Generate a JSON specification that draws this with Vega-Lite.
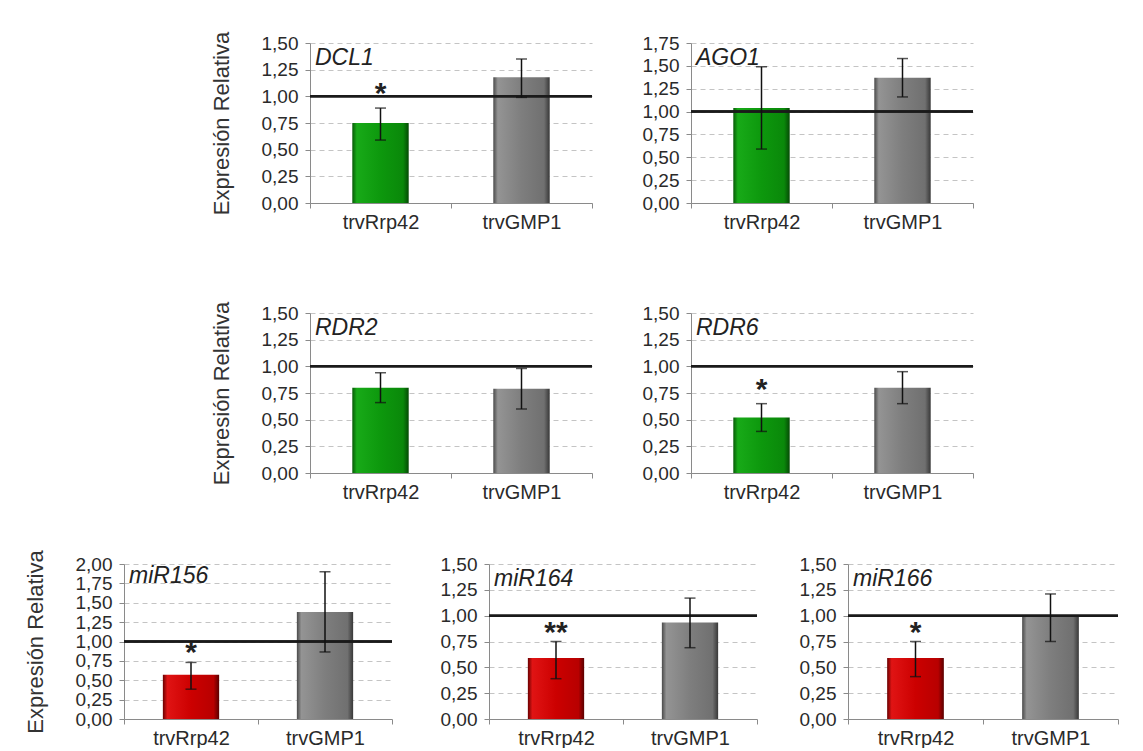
{
  "$schema": "https://vega.github.io/schema/vega-lite/v6.json",
  "padding": {"left": 24, "top": 29, "right": 0, "bottom": 0},
  "background": "white",
  "datasets": {
    "bars": [
      {"gen": "DCL1", "grupo": "trvRrp42", "valor": 0.75, "min": 0.59, "max": 0.89, "sig": "*"},
      {"gen": "DCL1", "grupo": "trvGMP1", "valor": 1.18, "min": 0.99, "max": 1.35, "sig": ""},
      {"gen": "AGO1", "grupo": "trvRrp42", "valor": 1.04, "min": 0.59, "max": 1.49, "sig": ""},
      {"gen": "AGO1", "grupo": "trvGMP1", "valor": 1.37, "min": 1.16, "max": 1.58, "sig": ""},
      {"gen": "RDR2", "grupo": "trvRrp42", "valor": 0.80, "min": 0.66, "max": 0.94, "sig": ""},
      {"gen": "RDR2", "grupo": "trvGMP1", "valor": 0.79, "min": 0.60, "max": 0.98, "sig": ""},
      {"gen": "RDR6", "grupo": "trvRrp42", "valor": 0.52, "min": 0.39, "max": 0.65, "sig": "*"},
      {"gen": "RDR6", "grupo": "trvGMP1", "valor": 0.80, "min": 0.65, "max": 0.95, "sig": ""},
      {"gen": "miR156", "grupo": "trvRrp42", "valor": 0.57, "min": 0.385, "max": 0.73, "sig": "*"},
      {"gen": "miR156", "grupo": "trvGMP1", "valor": 1.38, "min": 0.865, "max": 1.90, "sig": ""},
      {"gen": "miR164", "grupo": "trvRrp42", "valor": 0.59, "min": 0.39, "max": 0.75, "sig": "**"},
      {"gen": "miR164", "grupo": "trvGMP1", "valor": 0.935, "min": 0.69, "max": 1.17, "sig": ""},
      {"gen": "miR166", "grupo": "trvRrp42", "valor": 0.59, "min": 0.41, "max": 0.75, "sig": "*"},
      {"gen": "miR166", "grupo": "trvGMP1", "valor": 0.99, "min": 0.75, "max": 1.21, "sig": ""}
    ]
  },
  "config": {
    "font": "Liberation Sans",
    "view": {"stroke": null},
    "locale": {"number": {"decimal": ",", "thousands": ".", "grouping": [3], "currency": ["", " €"]}},
    "scale": {"bandPaddingInner": 0, "bandPaddingOuter": 0},
    "axisY": {"grid": true, "gridDash": [5, 4], "gridColor": "#c4c4c4", "gridWidth": 1, "domainColor": "#8a8a8a", "tickColor": "#8a8a8a", "tickSize": 5, "labelFontSize": 19, "labelColor": "#2a2a2a", "labelPadding": 7, "labelOverlap": false, "titleFontSize": 22, "titleFontWeight": "normal", "titleColor": "#333333", "titlePadding": 28, "format": ".2f"},
    "axisX": {"grid": false, "tickBand": "extent", "labelAngle": 0, "domainColor": "#8a8a8a", "tickColor": "#8a8a8a", "tickSize": 5, "labelFontSize": 20, "labelColor": "#2a2a2a", "labelPadding": 4}
  },
  "spacing": 45,
  "vconcat": [
    {
      "spacing": 69,
      "vconcat": [
        {
          "spacing": 48,
          "hconcat": [
            {"width": 38, "height": 1, "data": {"values": []}, "mark": "point", "encoding": {}},
            {
              "width": 282, "height": 160,
              "data": {"name": "bars"},
              "transform": [{"filter": "datum.gen === 'DCL1'"}],
              "layer": [
                {"transform": [{"filter": "datum.grupo === 'trvRrp42'"}], "mark": {"type": "bar", "width": {"band": 0.4}, "fill": {"gradient": "linear", "x1": 0, "y1": 0, "x2": 1, "y2": 0, "stops": [{"offset": 0, "color": "#075a07"}, {"offset": 0.08, "color": "#18aa18"}, {"offset": 0.5, "color": "#0d980d"}, {"offset": 0.9, "color": "#0a880a"}, {"offset": 1, "color": "#054a05"}]}},
                 "encoding": {"x": {"field": "grupo", "type": "nominal", "sort": ["trvRrp42", "trvGMP1"], "title": null}, "y": {"field": "valor", "type": "quantitative", "scale": {"domain": [0, 1.5], "nice": false}, "axis": {"values": [0, 0.25, 0.5, 0.75, 1, 1.25, 1.5]}, "title": "Expresión Relativa"}}},
                {"transform": [{"filter": "datum.grupo === 'trvGMP1'"}], "mark": {"type": "bar", "width": {"band": 0.4}, "fill": {"gradient": "linear", "x1": 0, "y1": 0, "x2": 1, "y2": 0, "stops": [{"offset": 0, "color": "#4a4a4a"}, {"offset": 0.08, "color": "#949494"}, {"offset": 0.5, "color": "#7e7e7e"}, {"offset": 0.9, "color": "#707070"}, {"offset": 1, "color": "#383838"}]}},
                 "encoding": {"x": {"field": "grupo", "type": "nominal", "sort": ["trvRrp42", "trvGMP1"], "title": null}, "y": {"field": "valor", "type": "quantitative", "axis": {"values": [0, 0.25, 0.5, 0.75, 1, 1.25, 1.5]}, "title": "Expresión Relativa"}}},
                {"mark": {"type": "rule", "color": "#1a1a1a", "strokeWidth": 2.5}, "encoding": {"y": {"datum": 1, "type": "quantitative", "axis": {"values": [0, 0.25, 0.5, 0.75, 1, 1.25, 1.5]}, "title": "Expresión Relativa"}}},
                {"mark": {"type": "rule", "color": "#111111", "strokeWidth": 1.5}, "encoding": {"x": {"field": "grupo", "type": "nominal", "sort": ["trvRrp42", "trvGMP1"], "title": null}, "y": {"field": "min", "type": "quantitative", "axis": {"values": [0, 0.25, 0.5, 0.75, 1, 1.25, 1.5]}, "title": "Expresión Relativa"}, "y2": {"field": "max"}}},
                {"mark": {"type": "tick", "color": "#111111", "thickness": 1.5, "size": 11}, "encoding": {"x": {"field": "grupo", "type": "nominal", "sort": ["trvRrp42", "trvGMP1"], "title": null}, "y": {"field": "min", "type": "quantitative", "axis": {"values": [0, 0.25, 0.5, 0.75, 1, 1.25, 1.5]}, "title": "Expresión Relativa"}}},
                {"mark": {"type": "tick", "color": "#111111", "thickness": 1.5, "size": 11}, "encoding": {"x": {"field": "grupo", "type": "nominal", "sort": ["trvRrp42", "trvGMP1"], "title": null}, "y": {"field": "max", "type": "quantitative", "axis": {"values": [0, 0.25, 0.5, 0.75, 1, 1.25, 1.5]}, "title": "Expresión Relativa"}}},
                {"mark": {"type": "text", "fontSize": 30, "fontWeight": "bold", "baseline": "alphabetic", "dy": -5, "color": "#222222"}, "encoding": {"x": {"field": "grupo", "type": "nominal", "sort": ["trvRrp42", "trvGMP1"], "title": null}, "y": {"field": "max", "type": "quantitative", "axis": {"values": [0, 0.25, 0.5, 0.75, 1, 1.25, 1.5]}, "title": "Expresión Relativa"}, "text": {"field": "sig"}}},
                {"transform": [{"filter": "datum.grupo === 'trvRrp42'"}], "mark": {"type": "text", "fontSize": 23, "fontStyle": "italic", "align": "left", "baseline": "top", "dx": 5, "dy": 4, "color": "#222222"}, "encoding": {"x": {"datum": "trvRrp42", "type": "nominal", "bandPosition": 0, "title": null}, "y": {"datum": 1.5, "type": "quantitative", "axis": {"values": [0, 0.25, 0.5, 0.75, 1, 1.25, 1.5]}, "title": "Expresión Relativa"}, "text": {"field": "gen"}}}
              ]
            },
            {
              "width": 282, "height": 160,
              "data": {"name": "bars"},
              "transform": [{"filter": "datum.gen === 'AGO1'"}],
              "layer": [
                {"transform": [{"filter": "datum.grupo === 'trvRrp42'"}], "mark": {"type": "bar", "width": {"band": 0.4}, "fill": {"gradient": "linear", "x1": 0, "y1": 0, "x2": 1, "y2": 0, "stops": [{"offset": 0, "color": "#075a07"}, {"offset": 0.08, "color": "#18aa18"}, {"offset": 0.5, "color": "#0d980d"}, {"offset": 0.9, "color": "#0a880a"}, {"offset": 1, "color": "#054a05"}]}},
                 "encoding": {"x": {"field": "grupo", "type": "nominal", "sort": ["trvRrp42", "trvGMP1"], "title": null}, "y": {"field": "valor", "type": "quantitative", "scale": {"domain": [0, 1.75], "nice": false}, "axis": {"values": [0, 0.25, 0.5, 0.75, 1, 1.25, 1.5, 1.75]}, "title": null}}},
                {"transform": [{"filter": "datum.grupo === 'trvGMP1'"}], "mark": {"type": "bar", "width": {"band": 0.4}, "fill": {"gradient": "linear", "x1": 0, "y1": 0, "x2": 1, "y2": 0, "stops": [{"offset": 0, "color": "#4a4a4a"}, {"offset": 0.08, "color": "#949494"}, {"offset": 0.5, "color": "#7e7e7e"}, {"offset": 0.9, "color": "#707070"}, {"offset": 1, "color": "#383838"}]}},
                 "encoding": {"x": {"field": "grupo", "type": "nominal", "sort": ["trvRrp42", "trvGMP1"], "title": null}, "y": {"field": "valor", "type": "quantitative", "axis": {"values": [0, 0.25, 0.5, 0.75, 1, 1.25, 1.5, 1.75]}, "title": null}}},
                {"mark": {"type": "rule", "color": "#1a1a1a", "strokeWidth": 2.5}, "encoding": {"y": {"datum": 1, "type": "quantitative", "axis": {"values": [0, 0.25, 0.5, 0.75, 1, 1.25, 1.5, 1.75]}, "title": null}}},
                {"mark": {"type": "rule", "color": "#111111", "strokeWidth": 1.5}, "encoding": {"x": {"field": "grupo", "type": "nominal", "sort": ["trvRrp42", "trvGMP1"], "title": null}, "y": {"field": "min", "type": "quantitative", "axis": {"values": [0, 0.25, 0.5, 0.75, 1, 1.25, 1.5, 1.75]}, "title": null}, "y2": {"field": "max"}}},
                {"mark": {"type": "tick", "color": "#111111", "thickness": 1.5, "size": 11}, "encoding": {"x": {"field": "grupo", "type": "nominal", "sort": ["trvRrp42", "trvGMP1"], "title": null}, "y": {"field": "min", "type": "quantitative", "axis": {"values": [0, 0.25, 0.5, 0.75, 1, 1.25, 1.5, 1.75]}, "title": null}}},
                {"mark": {"type": "tick", "color": "#111111", "thickness": 1.5, "size": 11}, "encoding": {"x": {"field": "grupo", "type": "nominal", "sort": ["trvRrp42", "trvGMP1"], "title": null}, "y": {"field": "max", "type": "quantitative", "axis": {"values": [0, 0.25, 0.5, 0.75, 1, 1.25, 1.5, 1.75]}, "title": null}}},
                {"mark": {"type": "text", "fontSize": 30, "fontWeight": "bold", "baseline": "alphabetic", "dy": -5, "color": "#222222"}, "encoding": {"x": {"field": "grupo", "type": "nominal", "sort": ["trvRrp42", "trvGMP1"], "title": null}, "y": {"field": "max", "type": "quantitative", "axis": {"values": [0, 0.25, 0.5, 0.75, 1, 1.25, 1.5, 1.75]}, "title": null}, "text": {"field": "sig"}}},
                {"transform": [{"filter": "datum.grupo === 'trvRrp42'"}], "mark": {"type": "text", "fontSize": 23, "fontStyle": "italic", "align": "left", "baseline": "top", "dx": 5, "dy": 4, "color": "#222222"}, "encoding": {"x": {"datum": "trvRrp42", "type": "nominal", "bandPosition": 0, "title": null}, "y": {"datum": 1.75, "type": "quantitative", "axis": {"values": [0, 0.25, 0.5, 0.75, 1, 1.25, 1.5, 1.75]}, "title": null}, "text": {"field": "gen"}}}
              ]
            }
          ]
        },
        {
          "spacing": 48,
          "hconcat": [
            {"width": 38, "height": 1, "data": {"values": []}, "mark": "point", "encoding": {}},
            {
              "width": 282, "height": 160,
              "data": {"name": "bars"},
              "transform": [{"filter": "datum.gen === 'RDR2'"}],
              "layer": [
                {"transform": [{"filter": "datum.grupo === 'trvRrp42'"}], "mark": {"type": "bar", "width": {"band": 0.4}, "fill": {"gradient": "linear", "x1": 0, "y1": 0, "x2": 1, "y2": 0, "stops": [{"offset": 0, "color": "#075a07"}, {"offset": 0.08, "color": "#18aa18"}, {"offset": 0.5, "color": "#0d980d"}, {"offset": 0.9, "color": "#0a880a"}, {"offset": 1, "color": "#054a05"}]}},
                 "encoding": {"x": {"field": "grupo", "type": "nominal", "sort": ["trvRrp42", "trvGMP1"], "title": null}, "y": {"field": "valor", "type": "quantitative", "scale": {"domain": [0, 1.5], "nice": false}, "axis": {"values": [0, 0.25, 0.5, 0.75, 1, 1.25, 1.5]}, "title": "Expresión Relativa"}}},
                {"transform": [{"filter": "datum.grupo === 'trvGMP1'"}], "mark": {"type": "bar", "width": {"band": 0.4}, "fill": {"gradient": "linear", "x1": 0, "y1": 0, "x2": 1, "y2": 0, "stops": [{"offset": 0, "color": "#4a4a4a"}, {"offset": 0.08, "color": "#949494"}, {"offset": 0.5, "color": "#7e7e7e"}, {"offset": 0.9, "color": "#707070"}, {"offset": 1, "color": "#383838"}]}},
                 "encoding": {"x": {"field": "grupo", "type": "nominal", "sort": ["trvRrp42", "trvGMP1"], "title": null}, "y": {"field": "valor", "type": "quantitative", "axis": {"values": [0, 0.25, 0.5, 0.75, 1, 1.25, 1.5]}, "title": "Expresión Relativa"}}},
                {"mark": {"type": "rule", "color": "#1a1a1a", "strokeWidth": 2.5}, "encoding": {"y": {"datum": 1, "type": "quantitative", "axis": {"values": [0, 0.25, 0.5, 0.75, 1, 1.25, 1.5]}, "title": "Expresión Relativa"}}},
                {"mark": {"type": "rule", "color": "#111111", "strokeWidth": 1.5}, "encoding": {"x": {"field": "grupo", "type": "nominal", "sort": ["trvRrp42", "trvGMP1"], "title": null}, "y": {"field": "min", "type": "quantitative", "axis": {"values": [0, 0.25, 0.5, 0.75, 1, 1.25, 1.5]}, "title": "Expresión Relativa"}, "y2": {"field": "max"}}},
                {"mark": {"type": "tick", "color": "#111111", "thickness": 1.5, "size": 11}, "encoding": {"x": {"field": "grupo", "type": "nominal", "sort": ["trvRrp42", "trvGMP1"], "title": null}, "y": {"field": "min", "type": "quantitative", "axis": {"values": [0, 0.25, 0.5, 0.75, 1, 1.25, 1.5]}, "title": "Expresión Relativa"}}},
                {"mark": {"type": "tick", "color": "#111111", "thickness": 1.5, "size": 11}, "encoding": {"x": {"field": "grupo", "type": "nominal", "sort": ["trvRrp42", "trvGMP1"], "title": null}, "y": {"field": "max", "type": "quantitative", "axis": {"values": [0, 0.25, 0.5, 0.75, 1, 1.25, 1.5]}, "title": "Expresión Relativa"}}},
                {"mark": {"type": "text", "fontSize": 30, "fontWeight": "bold", "baseline": "alphabetic", "dy": -5, "color": "#222222"}, "encoding": {"x": {"field": "grupo", "type": "nominal", "sort": ["trvRrp42", "trvGMP1"], "title": null}, "y": {"field": "max", "type": "quantitative", "axis": {"values": [0, 0.25, 0.5, 0.75, 1, 1.25, 1.5]}, "title": "Expresión Relativa"}, "text": {"field": "sig"}}},
                {"transform": [{"filter": "datum.grupo === 'trvRrp42'"}], "mark": {"type": "text", "fontSize": 23, "fontStyle": "italic", "align": "left", "baseline": "top", "dx": 5, "dy": 4, "color": "#222222"}, "encoding": {"x": {"datum": "trvRrp42", "type": "nominal", "bandPosition": 0, "title": null}, "y": {"datum": 1.5, "type": "quantitative", "axis": {"values": [0, 0.25, 0.5, 0.75, 1, 1.25, 1.5]}, "title": "Expresión Relativa"}, "text": {"field": "gen"}}}
              ]
            },
            {
              "width": 282, "height": 160,
              "data": {"name": "bars"},
              "transform": [{"filter": "datum.gen === 'RDR6'"}],
              "layer": [
                {"transform": [{"filter": "datum.grupo === 'trvRrp42'"}], "mark": {"type": "bar", "width": {"band": 0.4}, "fill": {"gradient": "linear", "x1": 0, "y1": 0, "x2": 1, "y2": 0, "stops": [{"offset": 0, "color": "#075a07"}, {"offset": 0.08, "color": "#18aa18"}, {"offset": 0.5, "color": "#0d980d"}, {"offset": 0.9, "color": "#0a880a"}, {"offset": 1, "color": "#054a05"}]}},
                 "encoding": {"x": {"field": "grupo", "type": "nominal", "sort": ["trvRrp42", "trvGMP1"], "title": null}, "y": {"field": "valor", "type": "quantitative", "scale": {"domain": [0, 1.5], "nice": false}, "axis": {"values": [0, 0.25, 0.5, 0.75, 1, 1.25, 1.5]}, "title": null}}},
                {"transform": [{"filter": "datum.grupo === 'trvGMP1'"}], "mark": {"type": "bar", "width": {"band": 0.4}, "fill": {"gradient": "linear", "x1": 0, "y1": 0, "x2": 1, "y2": 0, "stops": [{"offset": 0, "color": "#4a4a4a"}, {"offset": 0.08, "color": "#949494"}, {"offset": 0.5, "color": "#7e7e7e"}, {"offset": 0.9, "color": "#707070"}, {"offset": 1, "color": "#383838"}]}},
                 "encoding": {"x": {"field": "grupo", "type": "nominal", "sort": ["trvRrp42", "trvGMP1"], "title": null}, "y": {"field": "valor", "type": "quantitative", "axis": {"values": [0, 0.25, 0.5, 0.75, 1, 1.25, 1.5]}, "title": null}}},
                {"mark": {"type": "rule", "color": "#1a1a1a", "strokeWidth": 2.5}, "encoding": {"y": {"datum": 1, "type": "quantitative", "axis": {"values": [0, 0.25, 0.5, 0.75, 1, 1.25, 1.5]}, "title": null}}},
                {"mark": {"type": "rule", "color": "#111111", "strokeWidth": 1.5}, "encoding": {"x": {"field": "grupo", "type": "nominal", "sort": ["trvRrp42", "trvGMP1"], "title": null}, "y": {"field": "min", "type": "quantitative", "axis": {"values": [0, 0.25, 0.5, 0.75, 1, 1.25, 1.5]}, "title": null}, "y2": {"field": "max"}}},
                {"mark": {"type": "tick", "color": "#111111", "thickness": 1.5, "size": 11}, "encoding": {"x": {"field": "grupo", "type": "nominal", "sort": ["trvRrp42", "trvGMP1"], "title": null}, "y": {"field": "min", "type": "quantitative", "axis": {"values": [0, 0.25, 0.5, 0.75, 1, 1.25, 1.5]}, "title": null}}},
                {"mark": {"type": "tick", "color": "#111111", "thickness": 1.5, "size": 11}, "encoding": {"x": {"field": "grupo", "type": "nominal", "sort": ["trvRrp42", "trvGMP1"], "title": null}, "y": {"field": "max", "type": "quantitative", "axis": {"values": [0, 0.25, 0.5, 0.75, 1, 1.25, 1.5]}, "title": null}}},
                {"mark": {"type": "text", "fontSize": 30, "fontWeight": "bold", "baseline": "alphabetic", "dy": -5, "color": "#222222"}, "encoding": {"x": {"field": "grupo", "type": "nominal", "sort": ["trvRrp42", "trvGMP1"], "title": null}, "y": {"field": "max", "type": "quantitative", "axis": {"values": [0, 0.25, 0.5, 0.75, 1, 1.25, 1.5]}, "title": null}, "text": {"field": "sig"}}},
                {"transform": [{"filter": "datum.grupo === 'trvRrp42'"}], "mark": {"type": "text", "fontSize": 23, "fontStyle": "italic", "align": "left", "baseline": "top", "dx": 5, "dy": 4, "color": "#222222"}, "encoding": {"x": {"datum": "trvRrp42", "type": "nominal", "bandPosition": 0, "title": null}, "y": {"datum": 1.5, "type": "quantitative", "axis": {"values": [0, 0.25, 0.5, 0.75, 1, 1.25, 1.5]}, "title": null}, "text": {"field": "gen"}}}
              ]
            }
          ]
        }
      ]
    },
    {
      "spacing": 46,
      "hconcat": [
        {
          "width": 268, "height": 155,
          "data": {"name": "bars"},
          "transform": [{"filter": "datum.gen === 'miR156'"}],
          "layer": [
            {"transform": [{"filter": "datum.grupo === 'trvRrp42'"}], "mark": {"type": "bar", "width": {"band": 0.42}, "fill": {"gradient": "linear", "x1": 0, "y1": 0, "x2": 1, "y2": 0, "stops": [{"offset": 0, "color": "#6a0000"}, {"offset": 0.08, "color": "#e01414"}, {"offset": 0.5, "color": "#cc0000"}, {"offset": 0.9, "color": "#b80000"}, {"offset": 1, "color": "#5a0000"}]}},
             "encoding": {"x": {"field": "grupo", "type": "nominal", "sort": ["trvRrp42", "trvGMP1"], "title": null}, "y": {"field": "valor", "type": "quantitative", "scale": {"domain": [0, 2], "nice": false}, "axis": {"values": [0, 0.25, 0.5, 0.75, 1, 1.25, 1.5, 1.75, 2]}, "title": "Expresión Relativa"}}},
            {"transform": [{"filter": "datum.grupo === 'trvGMP1'"}], "mark": {"type": "bar", "width": {"band": 0.42}, "fill": {"gradient": "linear", "x1": 0, "y1": 0, "x2": 1, "y2": 0, "stops": [{"offset": 0, "color": "#4a4a4a"}, {"offset": 0.08, "color": "#949494"}, {"offset": 0.5, "color": "#7e7e7e"}, {"offset": 0.9, "color": "#707070"}, {"offset": 1, "color": "#383838"}]}},
             "encoding": {"x": {"field": "grupo", "type": "nominal", "sort": ["trvRrp42", "trvGMP1"], "title": null}, "y": {"field": "valor", "type": "quantitative", "axis": {"values": [0, 0.25, 0.5, 0.75, 1, 1.25, 1.5, 1.75, 2]}, "title": "Expresión Relativa"}}},
            {"mark": {"type": "rule", "color": "#1a1a1a", "strokeWidth": 2.5}, "encoding": {"y": {"datum": 1, "type": "quantitative", "axis": {"values": [0, 0.25, 0.5, 0.75, 1, 1.25, 1.5, 1.75, 2]}, "title": "Expresión Relativa"}}},
            {"mark": {"type": "rule", "color": "#111111", "strokeWidth": 1.5}, "encoding": {"x": {"field": "grupo", "type": "nominal", "sort": ["trvRrp42", "trvGMP1"], "title": null}, "y": {"field": "min", "type": "quantitative", "axis": {"values": [0, 0.25, 0.5, 0.75, 1, 1.25, 1.5, 1.75, 2]}, "title": "Expresión Relativa"}, "y2": {"field": "max"}}},
            {"mark": {"type": "tick", "color": "#111111", "thickness": 1.5, "size": 11}, "encoding": {"x": {"field": "grupo", "type": "nominal", "sort": ["trvRrp42", "trvGMP1"], "title": null}, "y": {"field": "min", "type": "quantitative", "axis": {"values": [0, 0.25, 0.5, 0.75, 1, 1.25, 1.5, 1.75, 2]}, "title": "Expresión Relativa"}}},
            {"mark": {"type": "tick", "color": "#111111", "thickness": 1.5, "size": 11}, "encoding": {"x": {"field": "grupo", "type": "nominal", "sort": ["trvRrp42", "trvGMP1"], "title": null}, "y": {"field": "max", "type": "quantitative", "axis": {"values": [0, 0.25, 0.5, 0.75, 1, 1.25, 1.5, 1.75, 2]}, "title": "Expresión Relativa"}}},
            {"mark": {"type": "text", "fontSize": 30, "fontWeight": "bold", "baseline": "alphabetic", "dy": 0, "color": "#222222"}, "encoding": {"x": {"field": "grupo", "type": "nominal", "sort": ["trvRrp42", "trvGMP1"], "title": null}, "y": {"field": "max", "type": "quantitative", "axis": {"values": [0, 0.25, 0.5, 0.75, 1, 1.25, 1.5, 1.75, 2]}, "title": "Expresión Relativa"}, "text": {"field": "sig"}}},
            {"transform": [{"filter": "datum.grupo === 'trvRrp42'"}], "mark": {"type": "text", "fontSize": 23, "fontStyle": "italic", "align": "left", "baseline": "top", "dx": 5, "dy": 1, "color": "#222222"}, "encoding": {"x": {"datum": "trvRrp42", "type": "nominal", "bandPosition": 0, "title": null}, "y": {"datum": 2, "type": "quantitative", "axis": {"values": [0, 0.25, 0.5, 0.75, 1, 1.25, 1.5, 1.75, 2]}, "title": "Expresión Relativa"}, "text": {"field": "gen"}}}
          ]
        },
        {
          "spacing": 40,
          "hconcat": [
            {
              "width": 268, "height": 155,
              "data": {"name": "bars"},
              "transform": [{"filter": "datum.gen === 'miR164'"}],
              "layer": [
                {"transform": [{"filter": "datum.grupo === 'trvRrp42'"}], "mark": {"type": "bar", "width": {"band": 0.42}, "fill": {"gradient": "linear", "x1": 0, "y1": 0, "x2": 1, "y2": 0, "stops": [{"offset": 0, "color": "#6a0000"}, {"offset": 0.08, "color": "#e01414"}, {"offset": 0.5, "color": "#cc0000"}, {"offset": 0.9, "color": "#b80000"}, {"offset": 1, "color": "#5a0000"}]}},
                 "encoding": {"x": {"field": "grupo", "type": "nominal", "sort": ["trvRrp42", "trvGMP1"], "title": null}, "y": {"field": "valor", "type": "quantitative", "scale": {"domain": [0, 1.5], "nice": false}, "axis": {"values": [0, 0.25, 0.5, 0.75, 1, 1.25, 1.5]}, "title": null}}},
                {"transform": [{"filter": "datum.grupo === 'trvGMP1'"}], "mark": {"type": "bar", "width": {"band": 0.42}, "fill": {"gradient": "linear", "x1": 0, "y1": 0, "x2": 1, "y2": 0, "stops": [{"offset": 0, "color": "#4a4a4a"}, {"offset": 0.08, "color": "#949494"}, {"offset": 0.5, "color": "#7e7e7e"}, {"offset": 0.9, "color": "#707070"}, {"offset": 1, "color": "#383838"}]}},
                 "encoding": {"x": {"field": "grupo", "type": "nominal", "sort": ["trvRrp42", "trvGMP1"], "title": null}, "y": {"field": "valor", "type": "quantitative", "axis": {"values": [0, 0.25, 0.5, 0.75, 1, 1.25, 1.5]}, "title": null}}},
                {"mark": {"type": "rule", "color": "#1a1a1a", "strokeWidth": 2.5}, "encoding": {"y": {"datum": 1, "type": "quantitative", "axis": {"values": [0, 0.25, 0.5, 0.75, 1, 1.25, 1.5]}, "title": null}}},
                {"mark": {"type": "rule", "color": "#111111", "strokeWidth": 1.5}, "encoding": {"x": {"field": "grupo", "type": "nominal", "sort": ["trvRrp42", "trvGMP1"], "title": null}, "y": {"field": "min", "type": "quantitative", "axis": {"values": [0, 0.25, 0.5, 0.75, 1, 1.25, 1.5]}, "title": null}, "y2": {"field": "max"}}},
                {"mark": {"type": "tick", "color": "#111111", "thickness": 1.5, "size": 11}, "encoding": {"x": {"field": "grupo", "type": "nominal", "sort": ["trvRrp42", "trvGMP1"], "title": null}, "y": {"field": "min", "type": "quantitative", "axis": {"values": [0, 0.25, 0.5, 0.75, 1, 1.25, 1.5]}, "title": null}}},
                {"mark": {"type": "tick", "color": "#111111", "thickness": 1.5, "size": 11}, "encoding": {"x": {"field": "grupo", "type": "nominal", "sort": ["trvRrp42", "trvGMP1"], "title": null}, "y": {"field": "max", "type": "quantitative", "axis": {"values": [0, 0.25, 0.5, 0.75, 1, 1.25, 1.5]}, "title": null}}},
                {"mark": {"type": "text", "fontSize": 30, "fontWeight": "bold", "baseline": "alphabetic", "dy": 0, "color": "#222222"}, "encoding": {"x": {"field": "grupo", "type": "nominal", "sort": ["trvRrp42", "trvGMP1"], "title": null}, "y": {"field": "max", "type": "quantitative", "axis": {"values": [0, 0.25, 0.5, 0.75, 1, 1.25, 1.5]}, "title": null}, "text": {"field": "sig"}}},
                {"transform": [{"filter": "datum.grupo === 'trvRrp42'"}], "mark": {"type": "text", "fontSize": 23, "fontStyle": "italic", "align": "left", "baseline": "top", "dx": 5, "dy": 4, "color": "#222222"}, "encoding": {"x": {"datum": "trvRrp42", "type": "nominal", "bandPosition": 0, "title": null}, "y": {"datum": 1.5, "type": "quantitative", "axis": {"values": [0, 0.25, 0.5, 0.75, 1, 1.25, 1.5]}, "title": null}, "text": {"field": "gen"}}}
              ]
            },
            {
              "width": 270, "height": 155,
              "data": {"name": "bars"},
              "transform": [{"filter": "datum.gen === 'miR166'"}],
              "layer": [
                {"transform": [{"filter": "datum.grupo === 'trvRrp42'"}], "mark": {"type": "bar", "width": {"band": 0.42}, "fill": {"gradient": "linear", "x1": 0, "y1": 0, "x2": 1, "y2": 0, "stops": [{"offset": 0, "color": "#6a0000"}, {"offset": 0.08, "color": "#e01414"}, {"offset": 0.5, "color": "#cc0000"}, {"offset": 0.9, "color": "#b80000"}, {"offset": 1, "color": "#5a0000"}]}},
                 "encoding": {"x": {"field": "grupo", "type": "nominal", "sort": ["trvRrp42", "trvGMP1"], "title": null}, "y": {"field": "valor", "type": "quantitative", "scale": {"domain": [0, 1.5], "nice": false}, "axis": {"values": [0, 0.25, 0.5, 0.75, 1, 1.25, 1.5]}, "title": null}}},
                {"transform": [{"filter": "datum.grupo === 'trvGMP1'"}], "mark": {"type": "bar", "width": {"band": 0.42}, "fill": {"gradient": "linear", "x1": 0, "y1": 0, "x2": 1, "y2": 0, "stops": [{"offset": 0, "color": "#4a4a4a"}, {"offset": 0.08, "color": "#949494"}, {"offset": 0.5, "color": "#7e7e7e"}, {"offset": 0.9, "color": "#707070"}, {"offset": 1, "color": "#383838"}]}},
                 "encoding": {"x": {"field": "grupo", "type": "nominal", "sort": ["trvRrp42", "trvGMP1"], "title": null}, "y": {"field": "valor", "type": "quantitative", "axis": {"values": [0, 0.25, 0.5, 0.75, 1, 1.25, 1.5]}, "title": null}}},
                {"mark": {"type": "rule", "color": "#1a1a1a", "strokeWidth": 2.5}, "encoding": {"y": {"datum": 1, "type": "quantitative", "axis": {"values": [0, 0.25, 0.5, 0.75, 1, 1.25, 1.5]}, "title": null}}},
                {"mark": {"type": "rule", "color": "#111111", "strokeWidth": 1.5}, "encoding": {"x": {"field": "grupo", "type": "nominal", "sort": ["trvRrp42", "trvGMP1"], "title": null}, "y": {"field": "min", "type": "quantitative", "axis": {"values": [0, 0.25, 0.5, 0.75, 1, 1.25, 1.5]}, "title": null}, "y2": {"field": "max"}}},
                {"mark": {"type": "tick", "color": "#111111", "thickness": 1.5, "size": 11}, "encoding": {"x": {"field": "grupo", "type": "nominal", "sort": ["trvRrp42", "trvGMP1"], "title": null}, "y": {"field": "min", "type": "quantitative", "axis": {"values": [0, 0.25, 0.5, 0.75, 1, 1.25, 1.5]}, "title": null}}},
                {"mark": {"type": "tick", "color": "#111111", "thickness": 1.5, "size": 11}, "encoding": {"x": {"field": "grupo", "type": "nominal", "sort": ["trvRrp42", "trvGMP1"], "title": null}, "y": {"field": "max", "type": "quantitative", "axis": {"values": [0, 0.25, 0.5, 0.75, 1, 1.25, 1.5]}, "title": null}}},
                {"mark": {"type": "text", "fontSize": 30, "fontWeight": "bold", "baseline": "alphabetic", "dy": 0, "color": "#222222"}, "encoding": {"x": {"field": "grupo", "type": "nominal", "sort": ["trvRrp42", "trvGMP1"], "title": null}, "y": {"field": "max", "type": "quantitative", "axis": {"values": [0, 0.25, 0.5, 0.75, 1, 1.25, 1.5]}, "title": null}, "text": {"field": "sig"}}},
                {"transform": [{"filter": "datum.grupo === 'trvRrp42'"}], "mark": {"type": "text", "fontSize": 23, "fontStyle": "italic", "align": "left", "baseline": "top", "dx": 5, "dy": 4, "color": "#222222"}, "encoding": {"x": {"datum": "trvRrp42", "type": "nominal", "bandPosition": 0, "title": null}, "y": {"datum": 1.5, "type": "quantitative", "axis": {"values": [0, 0.25, 0.5, 0.75, 1, 1.25, 1.5]}, "title": null}, "text": {"field": "gen"}}}
              ]
            }
          ]
        }
      ]
    }
  ]
}
